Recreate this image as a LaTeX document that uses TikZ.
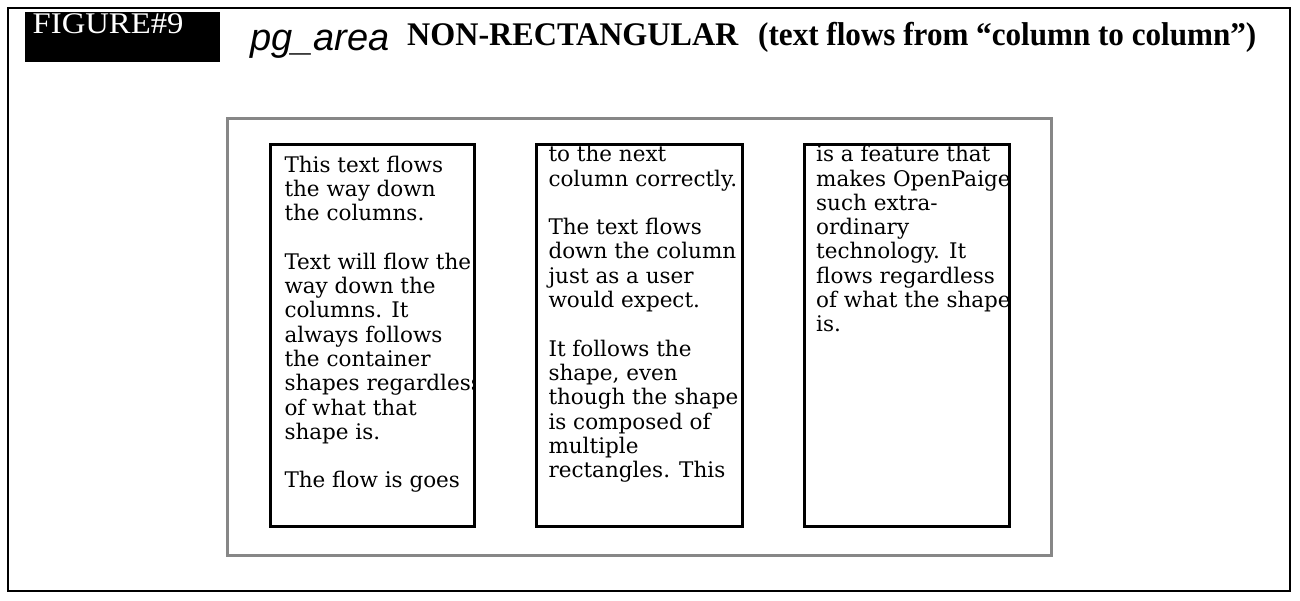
\documentclass[tikz,border=0pt]{standalone}
\usepackage{graphicx}
\usepackage{fontspec}
\setmainfont{Liberation Serif}
\newfontfamily\colfont{DejaVu Serif}
\newfontfamily\codefont{Liberation Sans}
\begin{document}
\begin{tikzpicture}[x=1pt,y=-1pt,
  outerframe/.style={draw=black,line width=2pt},
  areaframe/.style={draw=black!47,line width=3pt},
  colframe/.style={draw=black,line width=3pt},
  bodytext/.style={anchor=base west,inner sep=0pt,
    font=\colfont\fontsize{21.5}{24.3}\selectfont},
  tagbox/.style={fill=black,inner sep=0pt,anchor=north west,
    minimum width=195pt,minimum height=50pt},
  tagtext/.style={anchor=base west,inner sep=0pt,text=white,
    font=\fontsize{30}{32}\selectfont},
  headtext/.style={anchor=base west,inner sep=0pt}]
\useasboundingbox (0,0) rectangle (1300,600);
\fill[white] (0,0) rectangle (1300,600);

% page frame and the pg_area outline
\draw[outerframe] (8,8.3) rectangle (1289.5,591);
\draw[areaframe] (227.5,118) rectangle (1051.5,555);

% heading
\node[tagbox] (tag) at (25,12) {};
\node[tagtext] (taglabel) at (32.5,33.3) {\scalebox{1.09}[1]{FIGURE\#9}};
\node[headtext,font=\codefont\itshape\fontsize{38}{40}\selectfont] (code) at (250,50) {pg\_area};
\node[headtext,font=\bfseries\fontsize{33}{36}\selectfont] (title) at (407,45)
  {\scalebox{0.973}[1]{NON-RECTANGULAR}};
\node[headtext,font=\bfseries\fontsize{33}{36}\selectfont] (subtitle) at (758,45)
  {\scalebox{0.943}[1]{(text flows from “column to column”)}};

% column 1
\begin{scope}
  \clip (272.3,146.2) rectangle (473.2,525.2);
  \node[bodytext] (text1) at (284.3,172) {\parbox[t]{260pt}{%
    This text flows\\
    the way down\\
    the columns.\\[24.3pt]
    Text will flow the\\
    way down the\\
    columns. It\\
    always follows\\
    the container\\
    shapes regardless\\
    of what that\\
    shape is.\\[24.3pt]
    The flow is goes}};
\end{scope}
\draw[colframe] (270.8,144.7) rectangle (474.7,526.7);

% column 2
\begin{scope}
  \clip (538.2,146.2) rectangle (740.8,525.2);
  \node[bodytext] (text2) at (548.3,161.7) {\parbox[t]{260pt}{%
    to the next\\
    column correctly.\\[24.3pt]
    The text flows\\
    down the column\\
    just as a user\\
    would expect.\\[24.3pt]
    It follows the\\
    shape, even\\
    though the shape\\
    is composed of\\
    multiple\\
    rectangles. This}};
\end{scope}
\draw[colframe] (536.7,144.7) rectangle (742.3,526.7);

% column 3
\begin{scope}
  \clip (805.8,146.2) rectangle (1008.2,525.2);
  \node[bodytext] (text3) at (816,161.7) {\parbox[t]{260pt}{%
    is a feature that\\
    makes OpenPaige\\
    such extra-\\
    ordinary\\
    technology. It\\
    flows regardless\\
    of what the shape\\
    is.}};
\end{scope}
\draw[colframe] (804.3,144.7) rectangle (1009.7,526.7);
\end{tikzpicture}
\end{document}
